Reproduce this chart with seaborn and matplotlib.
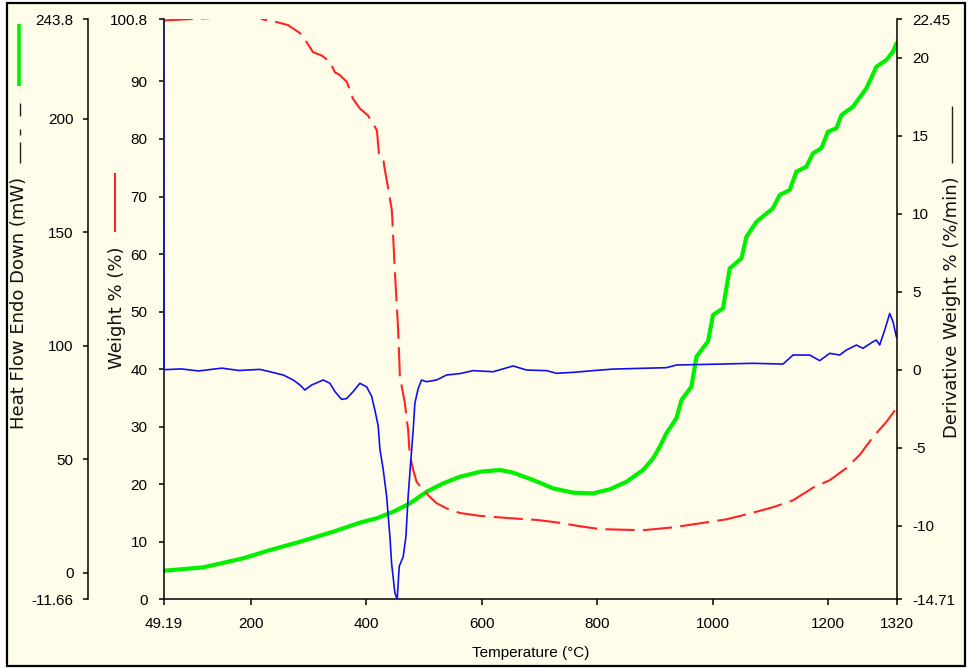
import matplotlib
matplotlib.use("Agg")
import matplotlib.pyplot as plt
import seaborn as sns
import pandas as pd
from matplotlib.lines import Line2D
from matplotlib.patches import Rectangle

# ---------------- data ----------------
weight_temp = [49.19, 147, 216, 221, 245.7, 264.7, 285.5, 294.1, 308, 323.5, 337.4, 346, 354.7,
               366.8, 377.2, 389.3, 403.2, 410, 418.8, 422.2, 429.1, 432.6, 437.8, 444.7, 449.9,
               455.6, 458.6, 467.2, 470.2, 472.9, 474.7, 477.1, 481.6, 487.5, 499, 510.5, 522.1,
               539.4, 562.4, 597, 649, 695.2, 735.5, 770.2, 804.8, 879.2, 931.1, 977.9, 1024.1,
               1064.4, 1104.7, 1139.4, 1174, 1203, 1231.8, 1254.9, 1277.9, 1300.9, 1318.4]
weight_pct = [100.6, 101.1, 101.1, 100.8, 100.3, 99.8, 98.4, 97.3, 95.1, 94.5, 93.4, 91.6, 91.1,
              89.9, 87.0, 85.3, 84.1, 83.0, 81.5, 77.5, 76.9, 74.6, 71.7, 67.6, 57.0,
              46.8, 38.7, 34.1, 31.5, 29.4, 26.5, 24.5, 22.5, 20.4, 19.0, 17.8, 16.7,
              15.8, 15.0, 14.5, 14.1, 13.8, 13.3, 12.7, 12.2, 12.0, 12.5, 13.2, 13.9,
              14.9, 16.0, 17.2, 19.4, 20.7, 22.8, 25.1, 28.2, 30.8, 33.2]

heat_temp = [49.19, 118.1, 187.3, 233.5, 285.5, 343.1, 389.3, 418.2, 447, 475.9, 504.8, 533.5,
             562.4, 597, 631.7, 654.7, 689.3, 723.9, 758.6, 793.2, 822.1, 851, 879.7, 897,
             908.6, 920.2, 937.5, 946.2, 963.5, 972.2, 992.3, 1000.9, 1018.2, 1029.8, 1050.1,
             1058.7, 1076, 1104.7, 1116.3, 1133.6, 1145.3, 1162.6, 1174, 1188.5, 1200, 1214.5,
             1223.2, 1243.3, 1266.5, 1283.8, 1301.1, 1312.5, 1318.4]
heat_flow = [0.9, 2.4, 6.4, 10.0, 13.7, 18.1, 22.1, 24.0, 26.9, 30.6, 35.7, 39.4,
             42.3, 44.5, 45.3, 44.1, 40.9, 37.2, 35.3, 35.0, 36.8, 40.1, 45.3, 50.4,
             55.5, 61.5, 68.1, 76.1, 82.0, 95.2, 102.0, 113.6, 116.5, 134.1, 138.5,
             148.0, 154.6, 160.6, 166.4, 168.6, 176.7, 178.9, 184.8, 187.0, 194.3, 195.8,
             201.6, 205.3, 213.4, 222.9, 225.9, 229.5, 233.2]

deriv_temp = [49.19, 50.0, 80, 110, 150, 180, 216.2, 233.5, 256.6, 273.9, 285.5, 294.1, 305.7,
              325.8, 337.4, 346, 357.7, 366.3, 377.7, 389.3, 401, 409.6, 415.3, 421, 424,
              429.7, 435.6, 441.3, 444.2, 449.9, 453.9, 457.4, 464.3, 469, 472.9, 477.1,
              481.6, 484.5, 490.3, 496.1, 504.8, 522.1, 539.4, 562.4, 585.5, 620.1, 654.7,
              677.9, 712.5, 729.8, 758.6, 793.2, 827.8, 920.2, 937.5, 1000.9, 1070.1, 1122.1,
              1139.4, 1168.3, 1185.6, 1202.9, 1220.2, 1231.8, 1249.1, 1260.5, 1277.9, 1283.8,
              1289.5, 1298.2, 1306.9, 1312.6, 1318.4]
deriv_val = [22.45, 0.0, 0.05, -0.08, 0.1, -0.05, 0.02, -0.13, -0.34, -0.66, -0.98, -1.3, -0.98,
             -0.66, -0.87, -1.4, -1.9, -1.85, -1.4, -0.87, -1.1, -1.7, -2.6, -3.6, -5.1,
             -6.4, -8.1, -10.7, -12.4, -14.3, -14.71, -12.6, -11.98, -10.7, -8.1, -6.0,
             -3.86, -2.15, -1.2, -0.66, -0.77, -0.66, -0.34, -0.25, -0.06, -0.13, 0.24,
             -0.02, -0.06, -0.23, -0.17, -0.06, 0.04, 0.13, 0.3, 0.35, 0.41, 0.36,
             0.94, 0.94, 0.58, 1.05, 0.94, 1.26, 1.58, 1.37, 1.79, 1.9,
             1.58, 2.54, 3.6, 3.07, 2.1]

x_ticks = [49.19, 200, 400, 600, 800, 1000, 1200, 1320]
x_tick_labels = ["49.19", "200", "400", "600", "800", "1000", "1200", "1320"]
weight_ticks = [0, 10, 20, 30, 40, 50, 60, 70, 80, 90, 100.8]
weight_tick_labels = ["0", "10", "20", "30", "40", "50", "60", "70", "80", "90", "100.8"]
heat_ticks = [-11.66, 0, 50, 100, 150, 200, 243.8]
heat_tick_labels = ["-11.66", "0", "50", "100", "150", "200", "243.8"]
deriv_ticks = [-14.71, -10, -5, 0, 5, 10, 15, 20, 22.45]
deriv_tick_labels = ["-14.71", "-10", "-5", "0", "5", "10", "15", "20", "22.45"]

# ---------------- styling ----------------
sns.set_theme(style="ticks")
plt.rcParams["font.family"] = ["Liberation Sans", "DejaVu Sans"]
plt.rcParams["axes.linewidth"] = 1.1

CREAM = "#fffdea"
RED = "#ff2424"
GREEN = "#00f000"
BLUE = "#1010ee"

W, H = 969, 668
fig = plt.figure(figsize=(W / 100, H / 100), dpi=100)
fig.patch.set_facecolor("white")
fig.add_artist(Rectangle((7 / W, 1 - 666 / H), (965 - 7) / W, (666 - 3) / H,
                         transform=fig.transFigure, facecolor=CREAM, edgecolor="black",
                         linewidth=1.6, zorder=-10))

x0, x1, ytop, ybot = 163.5, 897.3, 19.3, 599.3
rect = [x0 / W, 1 - ybot / H, (x1 - x0) / W, (ybot - ytop) / H]
ax = fig.add_axes(rect)
ax_h = ax.twinx()
ax_d = ax.twinx()
for a, z in ((ax_h, 1), (ax, 2), (ax_d, 3)):
    a.set_zorder(z)
    a.patch.set_visible(False)

df_w = pd.DataFrame({"Temperature": weight_temp, "Weight": weight_pct})
df_h = pd.DataFrame({"Temperature": heat_temp, "Heat": heat_flow})
df_d = pd.DataFrame({"Temperature": deriv_temp, "Deriv": deriv_val})

sns.lineplot(data=df_h, x="Temperature", y="Heat", ax=ax_h, color=GREEN, linewidth=3.0,
             estimator=None, sort=False)
sns.lineplot(data=df_w, x="Temperature", y="Weight", ax=ax, color=RED, linewidth=1.5,
             estimator=None, sort=False)
ax.lines[-1].set_dashes([14, 4])
sns.lineplot(data=df_d, x="Temperature", y="Deriv", ax=ax_d, color=BLUE, linewidth=1.2,
             estimator=None, sort=False)

ax.set_xlim(49.19, 1320)
ax.set_ylim(0, 100.8)
ax_h.set_ylim(-11.66, 243.8)
ax_d.set_ylim(-14.71, 22.45)

# spines
ax.spines["top"].set_visible(False)
ax.spines["right"].set_visible(False)
for s in ("top", "right", "bottom"):
    ax_h.spines[s].set_visible(False)
ax_h.spines["left"].set_visible(True)
ax_h.spines["left"].set_position(("axes", (88 - x0) / (x1 - x0)))
ax_h.yaxis.set_ticks_position("left")
ax_h.yaxis.set_label_position("left")
for s in ("top", "left", "bottom"):
    ax_d.spines[s].set_visible(False)
for a in (ax, ax_h, ax_d):
    for sp in a.spines.values():
        sp.set_color("black")
        sp.set_linewidth(1.1)

ax.set_xticks(x_ticks)
ax.set_xticklabels(x_tick_labels)
ax.set_yticks(weight_ticks)
ax.set_yticklabels(weight_tick_labels)
ax_h.set_yticks(heat_ticks)
ax_h.set_yticklabels(heat_tick_labels)
ax_d.set_yticks(deriv_ticks)
ax_d.set_yticklabels(deriv_tick_labels)

ax.tick_params(axis="x", direction="out", length=4, width=1.1, pad=9, labelsize=11,
               colors="black")
ax.tick_params(axis="y", direction="out", length=3.5, width=1.1, pad=8, labelsize=11,
               colors="black")
ax_h.tick_params(axis="y", direction="out", length=3.5, width=1.1, pad=7, labelsize=11,
                 colors="black")
ax_d.tick_params(axis="y", direction="out", length=3.5, width=1.1, pad=7, labelsize=11,
                 colors="black")

# labels
ax.set_xlabel("Temperature (°C)", fontsize=11, color="black")
ax.xaxis.set_label_coords(0.5, (ybot - 653) / (ybot - ytop))
ax.xaxis.label.set_va("center")

lab_font = dict(fontsize=13, family=["DejaVu Sans"], color="#111111")
ax.set_ylabel("Weight % (%)", **lab_font)
ax.yaxis.set_label_coords((117.5 - x0) / (x1 - x0), (ybot - 308) / (ybot - ytop))
ax.yaxis.label.set_va("center")
ax.yaxis.label.set_ha("center")

ax_h.set_ylabel("Heat Flow Endo Down (mW)", **lab_font)
ax_h.yaxis.set_label_coords((19 - x0) / (x1 - x0), (ybot - 303) / (ybot - ytop))
ax_h.yaxis.label.set_va("center")
ax_h.yaxis.label.set_ha("center")

ax_d.set_ylabel("Derivative Weight % (%/min)", rotation=90, **lab_font)
ax_d.yaxis.set_label_coords((952 - x0) / (x1 - x0), (ybot - 307.5) / (ybot - ytop))
ax_d.yaxis.label.set_va("center")
ax_d.yaxis.label.set_ha("center")


# legend swatches next to the axis titles
def vseg(x, ya, yb, **kw):
    fig.add_artist(Line2D([x / W, x / W], [1 - ya / H, 1 - yb / H],
                          transform=fig.transFigure, **kw))


vseg(19, 24, 86, color=GREEN, linewidth=2.6, solid_capstyle="butt")
vseg(19.5, 103, 116, color="#222222", linewidth=1.0, solid_capstyle="butt")
vseg(19.5, 129, 135, color="#222222", linewidth=1.0, solid_capstyle="butt")
vseg(19.5, 142, 163, color="#222222", linewidth=1.0, solid_capstyle="butt")
vseg(115, 173, 232, color=RED, linewidth=1.5, solid_capstyle="butt")
vseg(952, 106, 163, color="#222222", linewidth=1.0, solid_capstyle="butt")

fig.savefig("out.png", dpi=100, facecolor=fig.get_facecolor())
